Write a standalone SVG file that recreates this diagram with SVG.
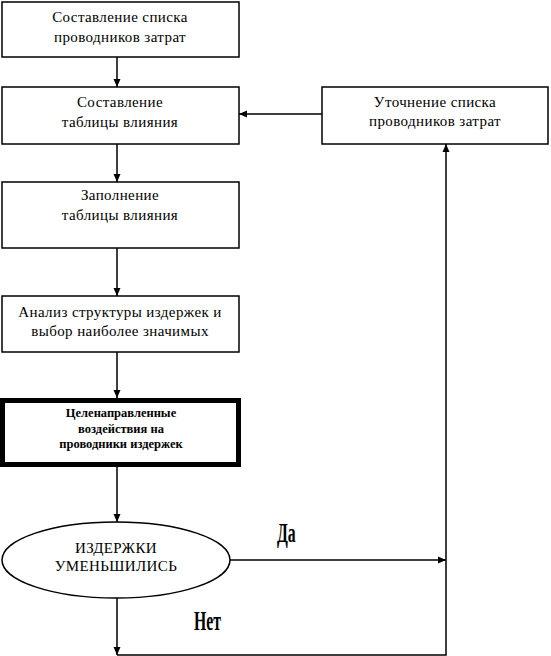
<svg xmlns="http://www.w3.org/2000/svg" width="551" height="656" viewBox="0 0 551 656" font-family="Liberation Serif, Times New Roman, serif">
<style>
.box{fill:#fff;stroke:#000;stroke-width:1.5}
.bold{fill:#fff;stroke:#000;stroke-width:5}
.t{font-size:15px;letter-spacing:0.4px;text-anchor:middle;fill:#000}
.tb{font-size:12.5px;font-weight:bold;text-anchor:middle;fill:#000}
.lbl{font-size:21px;font-weight:bold;fill:#000}
.c{fill:none;stroke:#000;stroke-width:1.5}
</style>
<defs>
<marker id="ah" markerWidth="8" markerHeight="8" refX="8" refY="4" orient="auto" markerUnits="userSpaceOnUse">
<path d="M0,0.5 L8,4 L0,7.5 Z" fill="#000"/>
</marker>
</defs>
<g id="n1"><rect class="box" x="2" y="2" width="237" height="55"/><text class="t" x="120" y="22">Составление списка</text><text class="t" x="120" y="42">проводников затрат</text></g>
<g id="n2"><rect class="box" x="2" y="87" width="237" height="57"/><text class="t" x="120" y="107">Составление</text><text class="t" x="120" y="127">таблицы влияния</text></g>
<g id="n3"><rect class="box" x="2" y="182" width="237" height="66"/><text class="t" x="120" y="200">Заполнение</text><text class="t" x="120" y="220">таблицы влияния</text></g>
<g id="n4"><rect class="box" x="2" y="296" width="237" height="56"/><text class="t" x="120" y="317">Анализ структуры издержек и</text><text class="t" x="120" y="336">выбор наиболее значимых</text></g>
<g id="n5"><rect class="bold" x="2.5" y="400.5" width="236" height="64"/><text class="tb" x="121" y="417">Целенаправленные</text><text class="tb" x="121" y="433">воздействия на</text><text class="tb" x="121" y="448">проводники издержек</text></g>
<g id="n6"><ellipse class="box" cx="116" cy="560" rx="114" ry="38"/><text class="t" x="116" y="553">ИЗДЕРЖКИ</text><text class="t" x="116" y="571">УМЕНЬШИЛИСЬ</text></g>
<g id="n7"><rect class="box" x="322" y="87" width="226" height="57"/><text class="t" x="435" y="107">Уточнение списка</text><text class="t" x="435" y="126">проводников затрат</text></g>
<g id="connectors">
<line class="c" x1="117" y1="57" x2="117" y2="87" marker-end="url(#ah)"/>
<line class="c" x1="117" y1="144" x2="117" y2="182" marker-end="url(#ah)"/>
<line class="c" x1="117" y1="248" x2="117" y2="296" marker-end="url(#ah)"/>
<line class="c" x1="117" y1="352" x2="117" y2="398" marker-end="url(#ah)"/>
<line class="c" x1="117" y1="467" x2="117" y2="522" marker-end="url(#ah)"/>
<line class="c" x1="230" y1="560" x2="446" y2="560" marker-end="url(#ah)"/>
<line class="c" x1="117" y1="598" x2="117" y2="655" marker-end="url(#ah)"/>
<polyline class="c" points="117,655 446,655 446,144" marker-end="url(#ah)"/>
<line class="c" x1="322" y1="114" x2="239" y2="114" marker-end="url(#ah)"/>
<text class="lbl" transform="translate(277,542) scale(0.75,1.3)">Да</text>
<text class="lbl" transform="translate(194,630) scale(0.75,1.3)">Нет</text>
</g>
</svg>
